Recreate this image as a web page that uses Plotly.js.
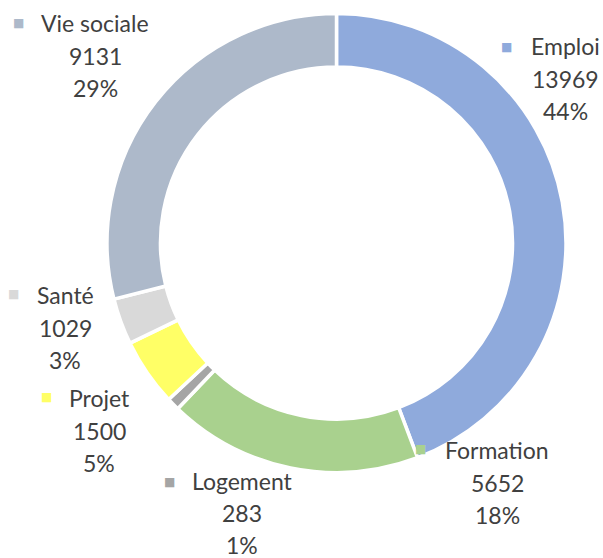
<!DOCTYPE html>
<html>
<head>
<meta charset="utf-8">
<script src="https://cdn.plot.ly/plotly-3.0.1.min.js"></script>
<style>html,body{margin:0;padding:0;background:#fff;}#chart{width:603px;height:558px;}</style>
</head>
<body>
<div id="chart"></div>
<script>
// Data
const categories = ['Emploi', 'Formation', 'Logement', 'Projet', 'Santé', 'Vie sociale'];
const values = [13969, 5652, 283, 1500, 1029, 9131];

// Styles
const colors = ['#8FAADC', '#A9D18E', '#A5A5A5', '#FFFF66', '#D9D9D9', '#ADB9CA'];
// Label layout (pixel positions): text center x, first line center y, key square x, key square y
const labelTextX = [565, 497, 242, 99, 65, 95];
const labelTextY = [46, 450, 481, 398, 295, 23];
const keyX = [507, 420, 169, 46, 14, 18];
const keyY = [47, 449, 482, 397, 294, 23];
const lineGap = [32.5, 32.5, 32, 32.5, 32.5, 32.5];

const W = 603, H = 558;
const total = values.reduce((a, b) => a + b, 0);
const px = x => x / W, py = y => 1 - y / H;

const annotations = [];
categories.forEach((c, i) => {
  const lines = [c, String(values[i]), Math.round(values[i] / total * 100) + '%'];
  lines.forEach((t, k) => {
    annotations.push({
      xref: 'paper', yref: 'paper', x: px(labelTextX[i]), y: py(labelTextY[i] + k * lineGap[i]),
      xanchor: 'center', yanchor: 'middle', showarrow: false, text: t,
      font: {family: 'Lato, Open Sans, sans-serif', size: 23, color: '#404040'}
    });
  });
  annotations.push({
    xref: 'paper', yref: 'paper', x: px(keyX[i]), y: py(keyY[i]),
    xanchor: 'center', yanchor: 'middle', showarrow: false, text: '■',
    font: {family: 'DejaVu Sans', size: 12, color: colors[i]}
  });
});

const cx = 336.5, cy = 243, r = 229.5;
const trace = {
  type: 'pie', labels: categories, values: values, sort: false, direction: 'clockwise', rotation: 0,
  hole: 0.767, textinfo: 'none', hoverinfo: 'label+value+percent',
  marker: {colors: colors, line: {color: '#ffffff', width: 3.5}},
  domain: {x: [px(cx - r), px(cx + r)], y: [py(cy + r), py(cy - r)]},
  showlegend: false
};

Plotly.newPlot('chart', [trace], {
  width: W, height: H, margin: {l: 0, r: 0, t: 0, b: 0},
  paper_bgcolor: '#ffffff', plot_bgcolor: '#ffffff',
  showlegend: false, annotations: annotations
}, {staticPlot: true});
</script>
</body>
</html>
